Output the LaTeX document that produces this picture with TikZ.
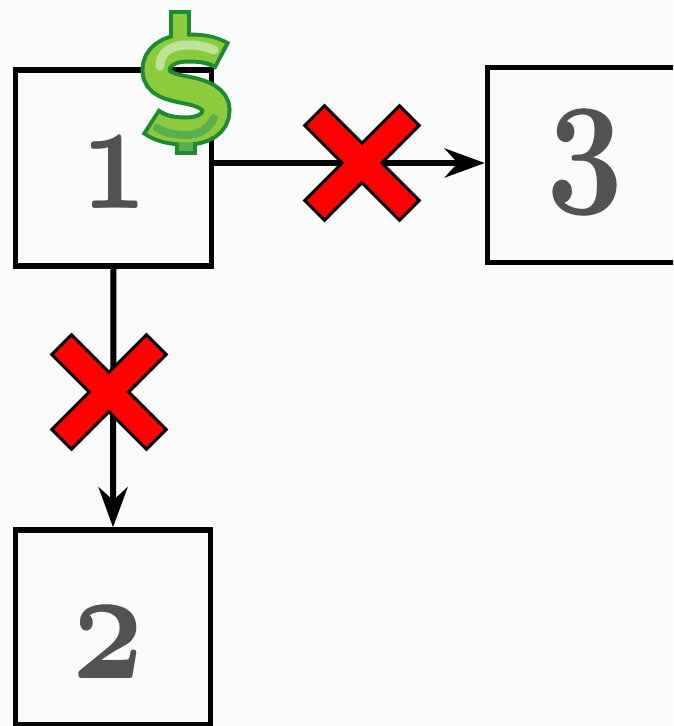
\documentclass[tikz,border=0pt]{standalone}
\usepackage{graphicx}
\usetikzlibrary{arrows.meta}
\definecolor{bg}{HTML}{FBFBFB}
\definecolor{numgray}{HTML}{525252}
\definecolor{dgreen}{HTML}{1E8A34}
\definecolor{lgreen}{HTML}{8CCB3E}
\definecolor{hgreen}{HTML}{BEE29A}
\definecolor{bgreen}{HTML}{5AAF4C}
\definecolor{xred}{HTML}{FF0000}
\newcommand{\osnum}[2]{\scalebox{#1}[6.43]{\fontsize{24.88}{25}\usefont{OML}{cmm}{b}{it}#2}}
\tikzset{
  box/.style={draw, line width=5.5pt, minimum width=196pt, minimum height=196pt, inner sep=0pt, fill=bg},
  num/.style={text=numgray, inner sep=0pt},
  arr/.style={line width=6pt, -{Stealth[length=40pt,width=29pt,inset=13pt]}},
  redx/.pic={\filldraw[fill=xred, draw=black, line width=3pt, line join=miter, rotate=45]
      (14,14) -- (67,14) -- (67,-14) -- (14,-14) -- (14,-67) -- (-14,-67) -- (-14,-14)
      -- (-67,-14) -- (-67,14) -- (-14,14) -- (-14,67) -- (14,67) -- cycle;}
}
\begin{document}
\begin{tikzpicture}[x=1pt,y=-1pt]
\useasboundingbox (0,0) rectangle (673,726);
\fill[bg] (0,0) rectangle (673,726);
\begin{scope}
\clip (0,0) rectangle (673,726);
\node[box] (b1) at (113.5,168) {};
\node[box, minimum height=195pt] (b3) at (585.5,165) {};
\node[box, minimum width=195pt, minimum height=195pt] (b2) at (113,627.5) {};
\node[num] (n1) at (114,173) {\osnum{4.6}{1}};
\node[num] (n3) at (585,162) {\osnum{5.4}{3}};
\node[num] (n2) at (108,643) {\osnum{5.0}{2}};
\coordinate (h) at (0,163);
\draw[arr] (b1.east |- h) -- (b3.west |- h);
\draw[arr] (b1.south) -- (b2.north);
\pic at (362,163) {redx};
\pic at (109,392) {redx};
% dollar sign
\begin{scope}[line cap=butt]
\draw[dgreen, line width=22pt] (180,10) -- (180,50);
\draw[dgreen, line width=22pt] (186,128) -- (186,155);
\draw[dgreen, line width=31pt] (223,56) .. controls (211,49) and (200,48) .. (188,48)
  .. controls (167,48) and (156,58) .. (156,70)
  .. controls (156,84) and (171,87) .. (186,90)
  .. controls (203,93) and (216,99) .. (216,110)
  .. controls (216,124) and (203,131) .. (186,131)
  .. controls (170,131) and (160,128) .. (150,121);
\draw[lgreen, line width=14pt] (180,14) -- (180,50);
\draw[bgreen, line width=14pt] (186,128) -- (186,151);
\draw[lgreen, line width=23pt, shorten <=4pt, shorten >=4pt] (223,56) .. controls (211,49) and (200,48) .. (188,48)
  .. controls (167,48) and (156,58) .. (156,70)
  .. controls (156,84) and (171,87) .. (186,90)
  .. controls (203,93) and (216,99) .. (216,110)
  .. controls (216,124) and (203,131) .. (186,131)
  .. controls (170,131) and (160,128) .. (150,121);
\draw[hgreen, line width=9pt, line cap=round] (214,50) .. controls (205,46) and (196,45) .. (188,45)
  .. controls (170,45) and (160,53) .. (160,66);
\draw[bgreen, line width=8pt, line cap=round] (214,118) .. controls (208,130) and (198,135) .. (186,135)
  .. controls (172,135) and (164,132) .. (157,128);
\end{scope}
\end{scope}
\end{tikzpicture}
\end{document}
